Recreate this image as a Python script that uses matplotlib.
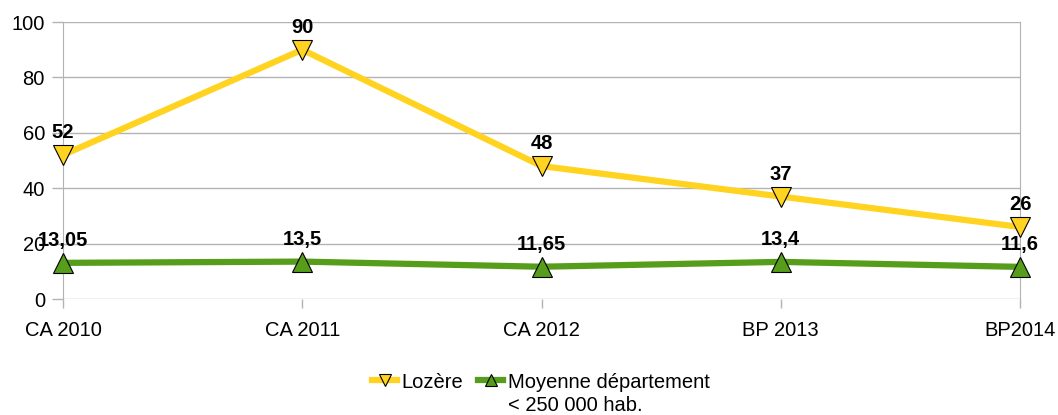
import matplotlib
matplotlib.use("Agg")
import matplotlib.pyplot as plt

categories = ["CA 2010", "CA 2011", "CA 2012", "BP 2013", "BP2014"]
lozere = [52, 90, 48, 37, 26]
moyenne = [13.05, 13.5, 11.65, 13.4, 11.6]
lozere_labels = ["52", "90", "48", "37", "26"]
moyenne_labels = ["13,05", "13,5", "11,65", "13,4", "11,6"]
yticks = [0, 20, 40, 60, 80, 100]

plt.rcParams['font.family'] = ['Liberation Sans', 'DejaVu Sans']

FS = 14.5
fig = plt.figure(figsize=(10.58, 4.15), dpi=100)
ax = fig.add_axes([63/1058, 1-299/415, (1020-63)/1058, (299-22)/415])

x = list(range(len(categories)))
yellow = "#FFD320"
green = "#579D1C"

ax.plot(x, lozere, color=yellow, lw=4.5, marker="v", ms=14, mfc=yellow,
        mec="black", mew=0.8, label="Lozère", zorder=3, clip_on=False)
ax.plot(x, moyenne, color=green, lw=4.5, marker="^", ms=14, mfc=green,
        mec="black", mew=0.8, label="Moyenne département", zorder=3, clip_on=False)

for xi, v, t in zip(x, lozere, lozere_labels):
    ax.annotate(t, (xi, v), xytext=(0, 12), textcoords="offset points",
                ha="center", va="baseline", fontsize=FS, fontweight="bold", zorder=5)
for xi, v, t in zip(x, moyenne, moyenne_labels):
    ax.annotate(t, (xi, v), xytext=(0, 12), textcoords="offset points",
                ha="center", va="baseline", fontsize=FS, fontweight="bold", zorder=5)

ax.set_xlim(0, 4)
ax.set_ylim(0, 100)
ax.set_yticks(yticks)
ax.set_xticks(x)
ax.set_xticklabels(categories)
ax.tick_params(axis="both", labelsize=FS, color="#b3b3b3", width=1)
ax.tick_params(axis="x", length=6.5, pad=9)
ax.tick_params(axis="y", length=8, pad=5)
ax.grid(axis="y", color="#b3b3b3", lw=1)
ax.set_axisbelow(True)
for s in ["left", "right"]:
    ax.spines[s].set_color("#b3b3b3")
for s in ["top", "bottom"]:
    ax.spines[s].set_visible(False)

leg = fig.legend(loc="center", bbox_to_anchor=(541/1058, 1-382/415), ncol=2,
                 frameon=False, fontsize=FS, handlelength=1.2, handletextpad=0.25,
                 columnspacing=0.75, markerscale=0.6)

fig.canvas.draw()
renderer = fig.canvas.get_renderer()
bb = leg.get_texts()[1].get_window_extent(renderer)
fig.text(bb.x0 / fig.bbox.width, 1 - 405/415, "< 250 000 hab.", fontsize=FS,
         ha="left", va="center")

fig.savefig("out.png", dpi=100)
